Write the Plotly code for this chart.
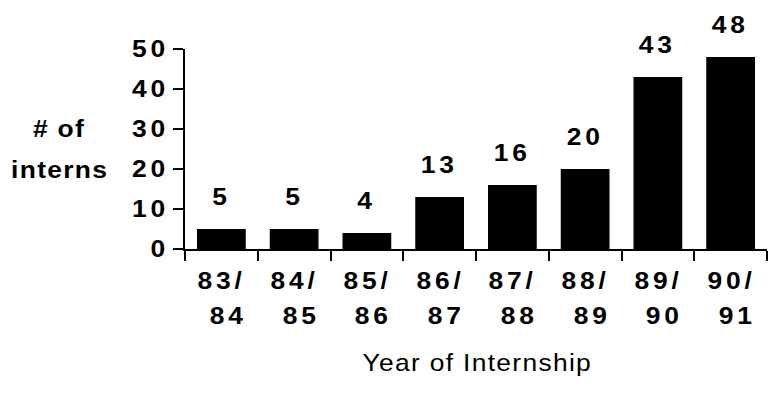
import plotly.graph_objects as go

# Interns per internship year
years = ["83/84", "84/85", "85/86", "86/87", "87/88", "88/89", "89/90", "90/91"]
interns = [5, 5, 4, 13, 16, 20, 43, 48]
y_ticks = [0, 10, 20, 30, 40, 50]

FONT = "Liberation Sans, Arial, Helvetica, sans-serif"
SIZE = 24
x_pos = list(range(len(years)))
boundaries = [i - 0.5 for i in range(len(years) + 1)]


def label_font(bold=True):
    return dict(family=FONT, size=SIZE, color="black", weight="bold" if bold else "normal")


fig = go.Figure(
    go.Bar(
        x=x_pos,
        y=interns,
        width=0.67,
        marker=dict(color="black", line=dict(width=0)),
        hoverinfo="skip",
    )
)

annotations = []
# value labels above each bar
for xi, v in zip(x_pos, interns):
    annotations.append(dict(
        x=xi, y=v, xref="x", yref="y", text=str(v), showarrow=False,
        yanchor="middle", yshift=33, xshift=-2, font=label_font(),
    ))
# two-line year labels under the axis
for xi, label in zip(x_pos, years):
    first, second = label.split("/")
    annotations.append(dict(
        x=xi, y=0, xref="x", yref="paper", text=first + "/", showarrow=False,
        yanchor="middle", yshift=-31, xshift=-1, font=label_font(),
    ))
    annotations.append(dict(
        x=xi, y=0, xref="x", yref="paper", text=second, showarrow=False,
        yanchor="middle", yshift=-66, xshift=5, font=label_font(),
    ))
# axis titles
annotations += [
    dict(x=-0.2165, y=0.605, xref="paper", yref="paper", text="# of", showarrow=False,
         xanchor="center", yanchor="middle", font=label_font()),
    dict(x=-0.2165, y=0.40, xref="paper", yref="paper", text="interns", showarrow=False,
         xanchor="center", yanchor="middle", font=label_font()),
    dict(x=0.5, y=-0.57, xref="paper", yref="paper", text="Year of Internship", showarrow=False,
         xanchor="center", yanchor="middle", font=label_font(bold=False)),
]

fig.update_layout(
    width=771, height=399,
    margin=dict(l=185, r=4, t=49, b=150),
    paper_bgcolor="white", plot_bgcolor="white",
    showlegend=False,
    annotations=annotations,
    xaxis=dict(
        range=[-0.5, len(years) - 0.5],
        showgrid=False, zeroline=False,
        showline=True, linecolor="black", linewidth=2,
        ticks="outside", ticklen=10, tickwidth=2, tickcolor="black",
        tickmode="array", tickvals=boundaries, showticklabels=False,
        fixedrange=True,
    ),
    yaxis=dict(
        range=[0, 50],
        showgrid=False, zeroline=False,
        showline=True, linecolor="black", linewidth=2,
        ticks="outside", ticklen=10, tickwidth=2, tickcolor="black",
        tickmode="array", tickvals=y_ticks, ticktext=[str(t) for t in y_ticks],
        tickfont=label_font(),
        ticklabelstandoff=3,
        fixedrange=True,
    ),
)

# Wide, loosely set lettering: stretch each label horizontally about its anchor
# and open up the spacing between digits.
lettering_js = """
var gd = document.getElementById('{plot_id}');
var SX = 1.1;
function widen() {
  gd.querySelectorAll('svg text').forEach(function (t) {
    if (t.getAttribute('data-wide')) return;
    var s = t.textContent.trim();
    if (!s) return;
    var ls = /^[0-9\\/]+$/.test(s) ? 3.5 : 1.2;
    var anchor = t.getAttribute('text-anchor') || 'start';
    t.style.letterSpacing = ls + 'px';
    t.setAttribute('dx', anchor === 'middle' ? ls / 2 : (anchor === 'end' ? ls : 0));
    var ax = parseFloat(t.getAttribute('x'));
    if (isNaN(ax)) {
      var b = t.getBBox();
      ax = anchor === 'middle' ? b.x + b.width / 2 : (anchor === 'end' ? b.x + b.width : b.x);
    }
    var base = t.getAttribute('transform') || '';
    t.setAttribute('transform', base + ' translate(' + ax + ',0) scale(' + SX + ',1) translate(' + (-ax) + ',0)');
    t.setAttribute('data-wide', '1');
  });
}
widen();
gd.on('plotly_afterplot', function () {
  gd.querySelectorAll('svg text[data-wide]').forEach(function (t) { t.removeAttribute('data-wide'); });
  widen();
});
"""

fig.write_html("out.html", config={"displayModeBar": False}, post_script=lettering_js)
